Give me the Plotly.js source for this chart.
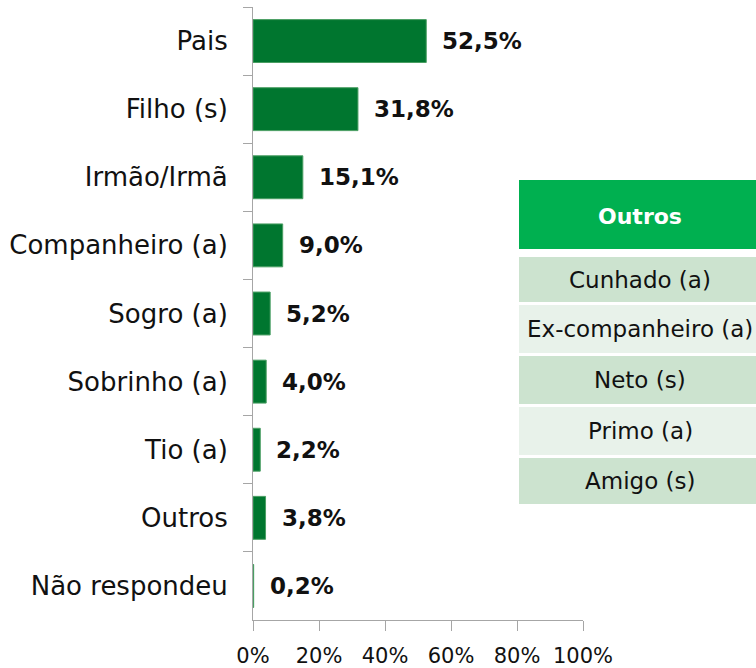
<!DOCTYPE html>
<html>
<head>
<meta charset="utf-8">
<script src="https://cdn.plot.ly/plotly-3.0.1.min.js"></script>
<style>
html,body{margin:0;padding:0;background:#fff;}
#chart{width:756px;height:668px;}
</style>
</head>
<body>
<div id="chart"></div>
<script>
// ---- data ----
var categories = ["Pais", "Filho (s)", "Irmão/Irmã", "Companheiro (a)", "Sogro (a)", "Sobrinho (a)", "Tio (a)", "Outros", "Não respondeu"];
var values = [52.5, 31.8, 15.1, 9.0, 5.2, 4.0, 2.2, 3.8, 0.2];
var xTickVals = [0, 20, 40, 60, 80, 100];
var xTickText = ["0%", "20%", "40%", "60%", "80%", "100%"];
var tableHeader = "Outros";
var tableRows = ["Cunhado (a)", "Ex-companheiro (a)", "Neto (s)", "Primo (a)", "Amigo (s)"];

// ---- layout geometry (pixels) ----
var W = 756, H = 668;
var M = {l: 253, r: 173, t: 7, b: 48};
var PW = W - M.l - M.r, PH = H - M.t - M.b;
function px(x) { return (x - M.l) / PW; }
function py(y) { return (H - M.b - y) / PH; }

var font = "DejaVu Sans, Verdana, sans-serif";

function fmt(v) { return v.toFixed(1).replace('.', ',') + '%'; }

var trace = {
  type: 'bar',
  orientation: 'h',
  y: categories,
  x: values,
  marker: {color: '#00762F', line: {color: '#4a9e63', width: 1}},
  hoverinfo: 'skip'
};

var annotations = values.map(function(v, i) {
  return {
    x: v, y: categories[i], xref: 'x', yref: 'y',
    text: fmt(v), showarrow: false, xanchor: 'left', yanchor: 'middle',
    xshift: 14,
    font: {family: font, size: 23, color: '#111111', weight: 'bold'}
  };
});

var shapes = [];
// table header
var tblL = 519, tblR = 770;
shapes.push({type: 'rect', xref: 'paper', yref: 'paper', x0: px(tblL), x1: px(tblR), y0: py(249), y1: py(180),
  fillcolor: '#00B050', line: {width: 0}, layer: 'above'});
annotations.push({xref: 'paper', yref: 'paper', x: px(640), y: py(216), text: '<b>' + tableHeader + '</b>',
  showarrow: false, xanchor: 'center', yanchor: 'middle',
  font: {family: font, size: 22, color: '#ffffff'}});
var rowTop = [257, 305, 356, 407, 458];
var rowBot = [302, 353, 404, 455, 504];
var rowFill = ['#CCE3CF', '#E8F2EA'];
tableRows.forEach(function(t, i) {
  shapes.push({type: 'rect', xref: 'paper', yref: 'paper', x0: px(tblL), x1: px(tblR), y0: py(rowBot[i]), y1: py(rowTop[i]),
    fillcolor: rowFill[i % 2], line: {width: 0}, layer: 'above'});
  annotations.push({xref: 'paper', yref: 'paper', x: px(640), y: py((rowTop[i] + rowBot[i]) / 2), text: t,
    showarrow: false, xanchor: 'center', yanchor: 'middle',
    font: {family: font, size: 23, color: '#111111'}});
});

var layout = {
  width: W, height: H,
  margin: M,
  paper_bgcolor: '#ffffff', plot_bgcolor: '#ffffff',
  showlegend: false,
  bargap: 0.37,
  font: {family: font, color: '#111111'},
  xaxis: {
    range: [0, 100], tickvals: xTickVals, ticktext: xTickText,
    showgrid: false, zeroline: false, showline: true, linecolor: '#A6A6A6', linewidth: 1,
    ticks: 'outside', ticklen: 10, tickcolor: '#A6A6A6',
    ticklabelstandoff: 7,
    tickfont: {family: font, size: 21, color: '#111111'}, fixedrange: true
  },
  yaxis: {
    type: 'category', range: [8.5, -0.5],
    showgrid: false, zeroline: false, showline: true, linecolor: '#A6A6A6', linewidth: 1,
    ticks: 'outside', ticklen: 9, tickcolor: '#A6A6A6', tickson: 'boundaries',
    ticklabelstandoff: 19,
    tickfont: {family: font, size: 26, color: '#111111'}, fixedrange: true
  },
  shapes: shapes,
  annotations: annotations
};

Plotly.newPlot('chart', [trace], layout, {displayModeBar: false, staticPlot: true});
</script>
</body>
</html>
